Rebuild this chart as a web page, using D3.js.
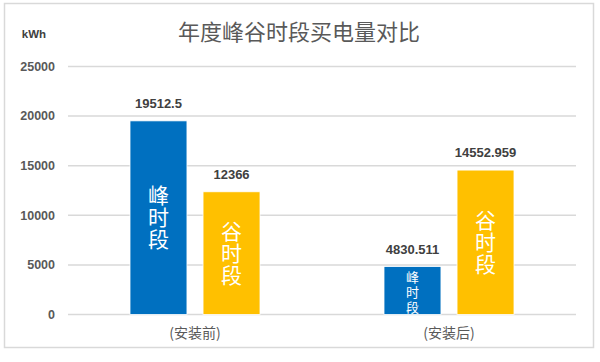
<!DOCTYPE html>
<html>
<head>
<meta charset="utf-8">
<script src="https://cdn.jsdelivr.net/npm/d3@7"></script>
<style>
    body { margin: 0; background: #fff; }
    text { font-family: "Liberation Sans", Arial, "Noto Sans CJK SC", sans-serif; }
    .cjk { font-family: "Noto Sans CJK SC", sans-serif; }
</style>
</head>
<body>
<div id="chart"></div>
<script>
// chart data
const categories = ['(安装前)', '(安装后)'];
const seriesNames = ['峰时段', '谷时段'];
const peakValues = [19512.5, 4830.511];
const valleyValues = [12366, 14552.959];
const peakLabels = ['19512.5', '4830.511'];
const valleyLabels = ['12366', '14552.959'];
const yTicks = [0, 5000, 10000, 15000, 20000, 25000];
const seriesColors = ['#0070C0', '#FFC000'];

const width = 600, height = 362;

// Graph margin settings
const margin = { top: 66.4, right: 24, bottom: 47.5, left: 68 };

const svg = d3.select('#chart').append('svg')
    .attr('width', width)
    .attr('height', height);

// outer frame
svg.append('rect')
    .attr('x', 4.5).attr('y', 3.5)
    .attr('width', 589).attr('height', 344)
    .attr('fill', '#fff')
    .attr('stroke', '#d9d9d9')
    .attr('stroke-width', 1.5);

const xScale = d3.scaleBand()
    .domain(categories)
    .range([margin.left, width - margin.right]);

const innerScale = d3.scaleBand()
    .domain(seriesNames)
    .range([62, 192])
    .paddingInner(0.22);

const yScale = d3.scaleLinear()
    .domain([0, 25000])
    .range([height - margin.bottom, margin.top]);

// gridlines
svg.append('g').selectAll('line')
    .data(yTicks)
    .join('line')
    .attr('x1', margin.left)
    .attr('x2', width - margin.right)
    .attr('y1', d => yScale(d))
    .attr('y2', d => yScale(d))
    .attr('stroke', '#d9d9d9')
    .attr('stroke-width', 1.5);

// y tick labels
svg.append('g').selectAll('text')
    .data(yTicks)
    .join('text')
    .attr('x', 55)
    .attr('y', d => yScale(d))
    .attr('dy', '0.35em')
    .attr('text-anchor', 'end')
    .attr('font-size', 12.5)
    .attr('font-weight', 'bold')
    .attr('fill', '#595959')
    .text(d => d);

// unit + title
svg.append('text')
    .attr('x', 34).attr('y', 38)
    .attr('text-anchor', 'middle')
    .attr('font-size', 11.5)
    .attr('font-weight', 'bold')
    .attr('fill', '#404040')
    .text('kWh');

svg.append('text')
    .attr('class', 'cjk')
    .attr('x', 299).attr('y', 40)
    .attr('text-anchor', 'middle')
    .attr('font-size', 22)
    .attr('fill', '#595959')
    .text('年度峰谷时段买电量对比');

// flatten bars
const bars = [];
categories.forEach((c, i) => {
    bars.push({ cat: c, series: seriesNames[0], value: peakValues[i], label: peakLabels[i], color: seriesColors[0] });
    bars.push({ cat: c, series: seriesNames[1], value: valleyValues[i], label: valleyLabels[i], color: seriesColors[1] });
});

const defs = svg.append('defs');
const barG = svg.append('g');

bars.forEach((b, i) => {
    const x = xScale(b.cat) + innerScale(b.series);
    const w = innerScale.bandwidth();
    const y0 = yScale(b.value);
    const h = yScale(0) - y0;

    defs.append('clipPath').attr('id', 'clip' + i)
        .append('rect').attr('x', x).attr('y', y0).attr('width', w).attr('height', h);

    barG.append('rect')
        .attr('x', x).attr('y', y0)
        .attr('width', w).attr('height', h)
        .attr('fill', b.color)
        .attr('stroke', '#fff')
        .attr('stroke-width', 0.8);

    // value label above bar
    barG.append('text')
        .attr('x', x + w / 2)
        .attr('y', y0 - 13)
        .attr('text-anchor', 'middle')
        .attr('font-size', 13)
        .attr('font-weight', 'bold')
        .attr('fill', '#404040')
        .text(b.label);

    // vertical series name inside bar
    const big = h > 100;
    barG.append('text')
        .attr('class', 'cjk')
        .attr('clip-path', `url(#clip${i})`)
        .attr('writing-mode', 'vertical-rl')
        .attr('x', x + w / 2)
        .attr('y', big ? y0 + h / 2 : y0 + 4)
        .attr('text-anchor', big ? 'middle' : 'start')
        .attr('font-size', big ? 21 : 13)
        .attr('letter-spacing', big ? 1 : 2)
        .attr('fill', '#fff')
        .text(b.series);
});

// category labels
svg.append('g').selectAll('text')
    .data(categories)
    .join('text')
    .attr('class', 'cjk')
    .attr('x', d => xScale(d) + xScale.bandwidth() / 2)
    .attr('y', 333)
    .attr('dy', '0.35em')
    .attr('text-anchor', 'middle')
    .attr('font-size', 14)
    .attr('fill', '#595959')
    .text(d => d);
</script>
</body>
</html>
